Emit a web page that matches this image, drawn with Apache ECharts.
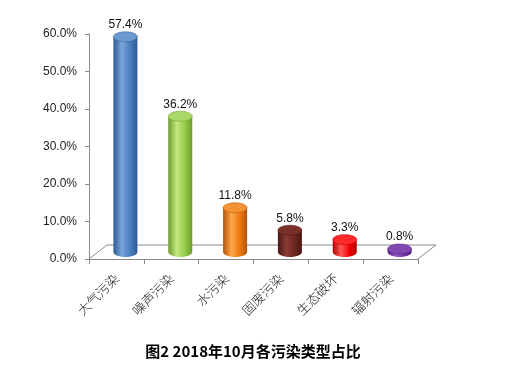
<!DOCTYPE html>
<html><head><meta charset="utf-8">
<script src="https://cdn.jsdelivr.net/npm/echarts@6/dist/echarts.min.js"></script>
<style>html,body{margin:0;padding:0;background:#fff}#c{width:522px;height:369px}</style>
</head><body><div id="c"></div>
<script>
var categories = ['大气污染','噪声污染','水污染','固废污染','生态破坏','辐射污染'];
var values = [57.4, 36.2, 11.8, 5.8, 3.3, 0.8];
var yTicks = [0, 10, 20, 30, 40, 50, 60];
var titleText = '图2 2018年10月各污染类型占比';
var palette = [
  {dark:'#2C5A91', light:'#7AA6DC', mid:'#4A7EBF', top:'#6C98D0'},
  {dark:'#6E9A2E', light:'#C2EA7E', mid:'#94CC4A', top:'#A9D868'},
  {dark:'#B5520A', light:'#FFA84A', mid:'#EC7A10', top:'#F49334'},
  {dark:'#4A1714', light:'#8A3A33', mid:'#6A2620', top:'#7C302A'},
  {dark:'#B00000', light:'#FF5A5A', mid:'#F00000', top:'#FF2A2A'},
  {dark:'#4E1F7A', light:'#9A5ACC', mid:'#7030A0', top:'#8048B0'}
];
var DX = 9, DY = -7, R = 12, RY = 5, DEPTH_X = 18, DEPTH_Y = 14;

function ellipsePts(cx, cy, rx, ry, a0, a1, n) {
  var pts = [];
  for (var i = 0; i <= n; i++) {
    var a = a0 + (a1 - a0) * i / n;
    pts.push([cx + rx * Math.cos(a), cy + ry * Math.sin(a)]);
  }
  return pts;
}

var chart = echarts.init(document.getElementById('c'), null, {renderer:'canvas'});
chart.setOption({
  animation: false,
  backgroundColor: '#fff',
  title: {
    text: titleText, left: 248, top: 339, textAlign: 'center',
    textStyle: {fontFamily: '"Noto Sans CJK SC"', fontSize: 15, fontWeight: 'bold', color: '#000'}
  },
  grid: {left: 89, right: 104, top: 34, bottom: 110},
  xAxis: {
    type: 'category', data: categories,
    axisLine: {lineStyle: {color: '#8A8A8A'}},
    axisTick: {show: true, length: 5, lineStyle: {color: '#8A8A8A'}},
    axisLabel: {rotate: 45, margin: 17, fontSize: 13, color: '#1a1a1a', fontFamily: '"Noto Sans CJK SC"', fontWeight: 300}
  },
  yAxis: {
    type: 'value', min: yTicks[0], max: yTicks[yTicks.length-1], interval: 10,
    splitLine: {show: false},
    axisLine: {show: true, lineStyle: {color: '#8A8A8A'}},
    axisTick: {show: true, length: 4, lineStyle: {color: '#8A8A8A'}},
    axisLabel: {formatter: function(v){return v.toFixed(1)+'%';}, fontSize: 12, color: '#222', fontFamily: '"Liberation Sans"', margin: 12}
  },
  series: [
    {
      type: 'custom', z: 1, silent: true,
      data: [[0]],
      renderItem: function(params, api) {
        var cs = params.coordSys;
        var x0 = cs.x, x1 = cs.x + cs.width, yb = cs.y + cs.height;
        return {
          type: 'polyline',
          shape: {points: [[x0, yb], [x0 + DEPTH_X, yb - DEPTH_Y], [x1 + DEPTH_X, yb - DEPTH_Y], [x1, yb]]},
          style: {stroke: '#8A8A8A', fill: null, lineWidth: 1}
        };
      }
    },
    {
      type: 'custom', z: 2,
      data: values.map(function(v, i){ return [i, v]; }),
      renderItem: function(params, api) {
        var i = api.value(0), v = api.value(1);
        var base = api.coord([i, 0]), top = api.coord([i, v]);
        var cx = base[0] + DX, yb = base[1] + DY, yt = top[1] + DY;
        var c = palette[params.dataIndex];
        var arc = [];
        for (var k = 0; k <= 30; k++) {
          var a = Math.PI - Math.PI * k / 30;
          arc.push([cx + R * Math.cos(a), yb + RY * Math.sin(a)]);
        }
        var body = [[cx - R, yt]].concat(arc).concat([[cx + R, yt]]);
        var grad = new echarts.graphic.LinearGradient(0, 0, 1, 0, [
          {offset: 0, color: c.dark},
          {offset: 0.35, color: c.light},
          {offset: 0.7, color: c.mid},
          {offset: 1, color: c.dark}
        ]);
        var topPts = ellipsePts(cx, yt, R, RY, 0, Math.PI * 2, 40);
        return {
          type: 'group',
          children: [
            {type: 'polygon', shape: {points: body}, style: {fill: grad, stroke: null}},
            {type: 'polygon', shape: {points: topPts}, style: {fill: c.top, stroke: c.dark, lineWidth: 0.5}},
            {type: 'text', style: {text: v.toFixed(1) + '%', x: cx, y: yt - 12, textAlign: 'center', textVerticalAlign: 'middle',
              fontSize: 12, fontFamily: '"Liberation Sans"', fill: '#111'}}
          ]
        };
      }
    }
  ]
});
</script></body></html>
